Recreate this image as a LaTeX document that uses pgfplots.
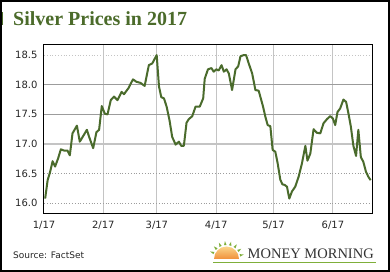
\documentclass[border=0pt]{standalone}
\usepackage{pgfplots}
\pgfplotsset{compat=1.18}
\usetikzlibrary{calc,backgrounds}
\usepackage{fontspec}
\setmainfont{DejaVu Sans}
\newfontfamily\titlefont{Liberation Serif}
\definecolor{mmgreen}{HTML}{4B6B2A}
\definecolor{linegreen}{HTML}{4A6B2C}
\definecolor{logogreen}{HTML}{7FAF3A}
\definecolor{sunorange}{HTML}{F0903A}
\definecolor{sunyellow}{HTML}{FBD58A}
\definecolor{gridlight}{HTML}{C4C4C4}
\definecolor{gridmid}{HTML}{9C9C9C}
\pgfplotstableread{
d v
0.6 16.08
1.9 16.39
3.2 16.53
4.5 16.71
5.8 16.62
7.4 16.76
8.8 16.91
10.5 16.89
12.3 16.89
13.5 16.81
14.9 17.18
17.2 17.31
18.7 17.04
20.4 17.13
22.4 17.24
23.6 17.12
25.7 16.93
27.4 17.20
28.8 17.24
30.2 17.64
31.8 17.51
33.2 17.50
34.9 17.74
36.6 17.80
38.4 17.74
40.6 17.88
41.8 17.84
44.1 17.94
46.5 18.09
48.3 18.05
50.5 18.03
52.6 17.98
54.8 18.33
56.6 18.36
58.9 18.50
60.1 17.97
61.3 17.79
62.7 17.77
64.1 17.63
65.6 17.40
67.0 17.12
68.8 16.99
70.5 17.04
71.7 16.97
73.1 16.97
74.5 17.36
75.7 17.42
77.5 17.47
79.2 17.63
81.4 17.63
83.2 17.77
84.0 18.10
85.7 18.26
87.5 18.28
88.7 18.22
90.0 18.26
91.3 18.24
92.8 18.33
94.0 18.22
95.4 18.26
96.6 18.19
98.3 17.91
100.1 18.26
101.5 18.31
102.7 18.48
104.4 18.50
105.6 18.50
107.0 18.36
108.8 18.19
110.5 17.91
112.2 17.90
114.5 17.63
115.7 17.46
116.9 17.32
118.3 17.30
119.5 16.90
120.9 16.87
122.1 16.68
123.5 16.40
124.6 16.32
125.8 16.31
127.0 16.28
128.2 16.08
129.6 16.20
131.3 16.28
133.1 16.45
134.8 16.67
136.6 16.97
137.7 16.72
139.2 16.84
140.9 17.25
142.6 17.19
144.4 17.18
146.1 17.35
147.9 17.42
149.6 17.47
151.0 17.43
152.2 17.32
153.4 17.54
154.8 17.60
156.5 17.75
157.9 17.71
159.1 17.52
160.4 17.29
161.7 16.97
163.1 16.80
164.3 17.24
165.6 16.78
166.9 16.70
168.3 16.53
169.5 16.45
170.7 16.39
}\silver
\begin{document}
\begin{tikzpicture}[x=1pt,y=1pt]
\begin{axis}[scale only axis,
  width=328.7pt, height=169pt,
  xmin=0, xmax=171.8, ymin=15.82, ymax=18.67,
  xtick={0,31,59,90,120,151},
  xticklabels={1/17,2/17,3/17,4/17,5/17,6/17},
  ytick={16,16.5,17,17.5,18,18.5},
  yticklabel style={/pgf/number format/fixed, /pgf/number format/fixed zerofill, /pgf/number format/precision=1, xshift=-3pt},
  /pgf/number format/assume math mode=true,
  ticklabel style={font=\fontsize{10}{12}\selectfont, text=black!85},
  xticklabel style={yshift=-4pt},
  major tick length=0pt,
  xmajorgrids, grid style={gridlight, line width=1pt},
  axis line style={black, line width=1pt},
  clip=false,
]
\coordinate (LL) at (rel axis cs:0,0);
\draw[gridlight, line width=0.8pt, dotted] (axis cs:0,18.5) -- (axis cs:171.8,18.5);
\draw[gridmid, line width=0.8pt] (axis cs:0,18) -- (axis cs:171.8,18);
\draw[gridmid, line width=0.8pt] (axis cs:0,17.5) -- (axis cs:171.8,17.5);
\draw[gridlight, line width=1.6pt] (axis cs:0,17) -- (axis cs:171.8,17);
\draw[gridmid, line width=0.8pt, dotted] (axis cs:0,16.5) -- (axis cs:171.8,16.5);
\draw[gridmid, line width=0.8pt, dotted] (axis cs:0,16) -- (axis cs:171.8,16);
\addplot[linegreen, line width=2pt, line join=round, no marks] table[x=d, y=v] {\silver};
\draw[black, line width=1pt] (rel axis cs:0,0) rectangle (rel axis cs:1,1);
\end{axis}
\pgfresetboundingbox
\begin{scope}[shift={($(LL)+(-44,-58)$)}]
\useasboundingbox (0,0) rectangle (390,272);
\begin{scope}[on background layer]
\fill[white] (0,0) rectangle (390,272);
\end{scope}
\fill[mmgreen] (0,247) rectangle (3.5,260);
\node[anchor=base west, inner sep=0, text=mmgreen, font=\titlefont\bfseries\fontsize{20}{24}\selectfont] at (13,246) {Silver Prices in 2017};
\node[anchor=base west, inner sep=0, font=\fontsize{9}{11}\selectfont, text=black!85] at (13,13.5) {Source: FactSet};
\foreach \a in {15,35,...,165} {
  \fill[logogreen] ({226.5+14*cos(\a-5)},{13+14*sin(\a-5)}) -- ({226.5+18*cos(\a)},{13+18*sin(\a)}) -- ({226.5+14*cos(\a+5)},{13+14*sin(\a+5)}) -- cycle;
}
\shade[top color=sunyellow, bottom color=sunorange] (214,13) arc[start angle=180, end angle=0, radius=12.5] -- cycle;
\draw[logogreen, line width=1.3pt] (213,9.7) -- (376,9.7);
\node[anchor=base west, inner sep=0, text=black!80, font=\titlefont\fontsize{14.5}{16}\selectfont] at (247.5,13) {MONEY MORNING};
\draw[line width=1.6pt] (0.8,0.8) rectangle (389.2,271.2);
\end{scope}
\end{tikzpicture}
\end{document}
